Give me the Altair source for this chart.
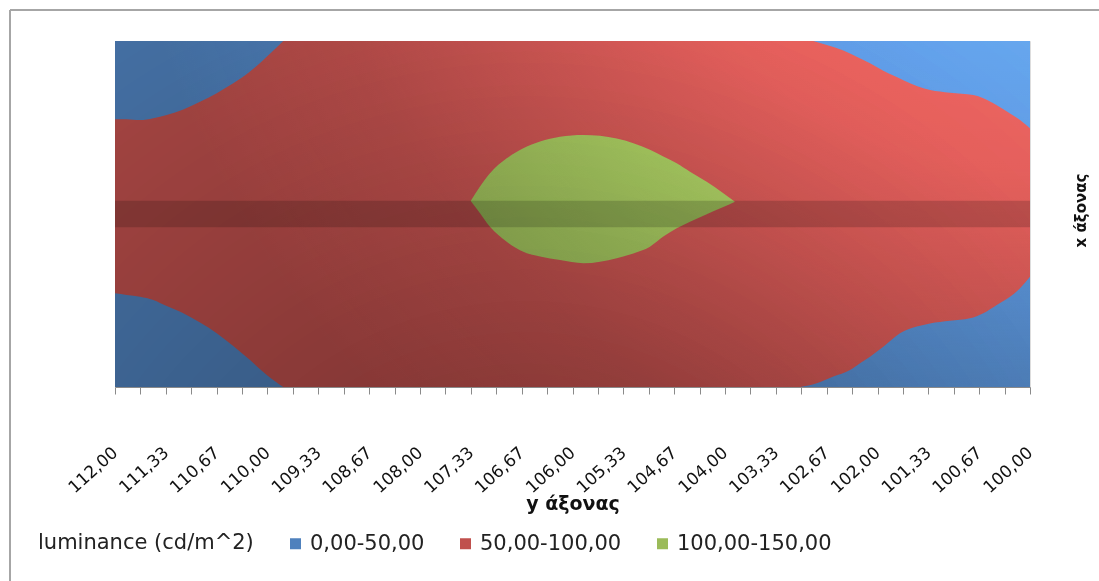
import altair as alt
import pandas as pd

# Grid positions along the y axis (one column every 1/3), labelled every other one
Y_TICKS = [112.0, 111.667, 111.333, 111.0, 110.667, 110.333, 110.0, 109.667, 109.333,
           109.0, 108.667, 108.333, 108.0, 107.667, 107.333, 107.0, 106.667, 106.333,
           106.0, 105.667, 105.333, 105.0, 104.667, 104.333, 104.0, 103.667, 103.333,
           103.0, 102.667, 102.333, 102.0, 101.667, 101.333, 101.0, 100.667, 100.333, 100.0]

# Rows of the measuring grid along the x axis (13 intervals)
ROW_MIN, ROW_MAX = 0, 13
# Darker strip of the grid (row 6 to 7)
STRIP_ROWS = [6, 7]

# 50 cd/m^2 contour: four corner pockets below 50
TL_Y = [112.000, 111.847, 111.672, 111.498, 111.322, 111.104, 110.885, 110.666,
        110.449, 110.229, 110.010, 109.793]
TL_V = [10.06, 10.06, 10.03, 10.10, 10.22, 10.43, 10.72, 11.04, 11.41, 11.85, 12.41, 13.00]
BL_Y = TL_Y
BL_V = [3.52, 3.46, 3.39, 3.27, 3.04, 2.77, 2.42, 2.02, 1.54, 1.01, 0.45, 0.00]
TR_Y = [102.842, 102.666, 102.448, 102.273, 102.098, 101.924, 101.661, 101.486, 101.311,
        101.049, 100.743, 100.612, 100.436, 100.262, 100.131, 100.000]
TR_V = [13.00, 12.85, 12.64, 12.41, 12.16, 11.88, 11.53, 11.31, 11.16, 11.06, 10.97,
        10.85, 10.59, 10.28, 10.03, 9.72]
BR_Y = [103.016, 102.797, 102.579, 102.360, 102.229, 102.098, 101.924, 101.705, 101.486,
        101.311, 101.049, 100.787, 100.612, 100.436, 100.262, 100.131, 100.000]
BR_V = [0.00, 0.14, 0.39, 0.64, 0.89, 1.14, 1.51, 2.02, 2.27, 2.39, 2.49, 2.58, 2.77,
        3.08, 3.39, 3.71, 4.14]

# 100 cd/m^2 contour: central zone above 100
G_Y = [107.335, 107.213, 107.082, 106.863, 106.645, 106.426, 106.164, 105.858, 105.420,
       105.202, 104.984, 104.809, 104.633, 104.459, 104.240, 104.022, 103.869]
G_TOP = [6.99, 7.53, 8.03, 8.59, 8.97, 9.22, 9.40, 9.47, 9.34, 9.16, 8.91, 8.66, 8.41,
         8.09, 7.71, 7.28, 6.96]
G_BOT = [6.99, 6.53, 6.02, 5.46, 5.08, 4.90, 4.77, 4.65, 4.84, 5.02, 5.27, 5.65, 5.96,
         6.21, 6.49, 6.76, 6.96]

BANDS = ["0,00-50,00", "50,00-100,00", "100,00-150,00"]
BAND_COLORS = ["#4F81BD", "#C0504D", "#9BBB59"]

FONT = "DejaVu Sans"
W, H = 915, 346

x_axis = alt.Axis(
    values=Y_TICKS,
    labelExpr="round((112 - datum.value) * 3) % 2 == 0 ? replace(format(datum.value, '.2f'), '.', ',') : ''",
    labelAngle=-42, labelAlign="right", labelBaseline="middle", labelPadding=56,
    labelOverlap=False, labelFlush=False, labelBound=False,
    labelFont=FONT, labelFontSize=17, labelColor="#111111",
    tickSize=7, tickColor="#8a8a8a", domainColor="#8a8a8a", grid=False,
    title="y άξονας", titleFont=FONT, titleFontSize=19, titleFontWeight="bold",
    titleColor="#111111", titleY=116, titleBaseline="middle",
)
y_axis = alt.Axis(
    orient="right", labels=False, ticks=False, domain=False, grid=False,
    title="x άξονας", titleFont=FONT, titleFontSize=15, titleFontWeight="bold",
    titleColor="#111111", titleAngle=270, titleX=50, titleY=H / 2 - 4,
    titleAlign="center", titleBaseline="middle",
)
xs = alt.Scale(domain=[112, 100], nice=False, zero=False)
ys = alt.Scale(domain=[ROW_MIN, ROW_MAX], nice=False, zero=False)


def X(field):
    return alt.X(field, type="quantitative", scale=xs, axis=x_axis)


def Y(field):
    return alt.Y(field, type="quantitative", scale=ys, axis=y_axis)


full = pd.DataFrame({"y0": [112], "y1": [100], "r0": [ROW_MIN], "r1": [ROW_MAX]})
strip = pd.DataFrame({"y0": [112], "y1": [100], "r0": [STRIP_ROWS[0]], "r1": [STRIP_ROWS[1]]})

# 50-100 band fills the whole floor, the other bands are drawn on top of it
base = alt.Chart(full).mark_rect(color=BAND_COLORS[1]).encode(
    x=X("y0"), x2="y1", y=Y("r0"), y2="r1")


def pocket(ys_, vs_, edge):
    df = pd.DataFrame({"yy": ys_, "v": vs_, "edge": [edge] * len(ys_)})
    return alt.Chart(df).mark_area(color=BAND_COLORS[0], interpolate="monotone").encode(
        x=X("yy"), y=Y("v"), y2="edge")


pockets = [pocket(TL_Y, TL_V, ROW_MAX), pocket(BL_Y, BL_V, ROW_MIN),
           pocket(TR_Y, TR_V, ROW_MAX), pocket(BR_Y, BR_V, ROW_MIN)]

green = alt.Chart(pd.DataFrame({"yy": G_Y, "top": G_TOP, "bot": G_BOT})).mark_area(
    color=BAND_COLORS[2], interpolate="monotone").encode(x=X("yy"), y=Y("top"), y2="bot")

# lighting of the surface: darker towards the near bottom, brighter at the far top right
shade_dark = alt.Chart(full).mark_rect(
    color=alt.RadialGradient(
        gradient="radial", x1=0.45, y1=1.0, r1=0, x2=0.45, y2=1.0, r2=1.05,
        stops=[alt.GradientStop(offset=0, color="rgba(0,0,0,0.42)"),
               alt.GradientStop(offset=0.5, color="rgba(0,0,0,0.24)"),
               alt.GradientStop(offset=1, color="rgba(0,0,0,0.07)")])
).encode(x=X("y0"), x2="y1", y=Y("r0"), y2="r1")

shade_light = alt.Chart(full).mark_rect(
    blend="color-dodge",
    color=alt.RadialGradient(
        gradient="radial", x1=1.0, y1=0.0, r1=0, x2=1.0, y2=0.0, r2=1.0,
        stops=[alt.GradientStop(offset=0, color="rgba(95,95,95,1)"),
               alt.GradientStop(offset=0.45, color="rgba(95,95,95,0.72)"),
               alt.GradientStop(offset=0.8, color="rgba(95,95,95,0.18)"),
               alt.GradientStop(offset=1, color="rgba(95,95,95,0)")])
).encode(x=X("y0"), x2="y1", y=Y("r0"), y2="r1")

strip_layer = alt.Chart(strip).mark_rect(color="black", opacity=0.17).encode(
    x=X("y0"), x2="y1", y=Y("r0"), y2="r1")

legend_layer = alt.Chart(pd.DataFrame({"band": BANDS, "yy": [106] * 3, "v": [6.5] * 3})).mark_square(
    opacity=0).encode(
    x=X("yy"), y=Y("v"),
    color=alt.Color("band:N", scale=alt.Scale(domain=BANDS, range=BAND_COLORS),
                    legend=alt.Legend(
                        title="luminance (cd/m^2)", orient="none", legendX=-77, legendY=492,
                        direction="horizontal", titleOrient="left", titleBaseline="middle",
                        titleFont=FONT, titleFontSize=21, titleFontWeight="normal",
                        titleColor="#222222", titlePadding=31, titleLimit=500,
                        labelFont=FONT, labelFontSize=21, labelColor="#222222", labelOffset=4,
                        labelLimit=400,
                        symbolType="square", symbolSize=121, symbolOpacity=1,
                        symbolStrokeWidth=0, columnPadding=30)))

# outer chart frame: top and left edges
frame_top = alt.Chart(full).mark_rule(color="#a6a6a6", strokeWidth=2).encode(
    x=alt.value(-105), x2=alt.value(W + 69), y=alt.value(-31))
frame_left = alt.Chart(full).mark_rule(color="#a6a6a6", strokeWidth=2).encode(
    x=alt.value(-105), y=alt.value(-31), y2=alt.value(H + 194))

chart = alt.layer(base, *pockets, green, shade_dark, shade_light, strip_layer,
                  legend_layer, frame_top, frame_left).properties(
    width=W, height=H,
    autosize=alt.AutoSizeParams(type="none"),
    padding={"left": 115, "top": 41, "right": 69, "bottom": 194},
).configure_view(stroke="#9a9a9a", strokeWidth=1).configure(background="white")

chart.save("out.html", embed_options={"renderer": "svg", "actions": False})
